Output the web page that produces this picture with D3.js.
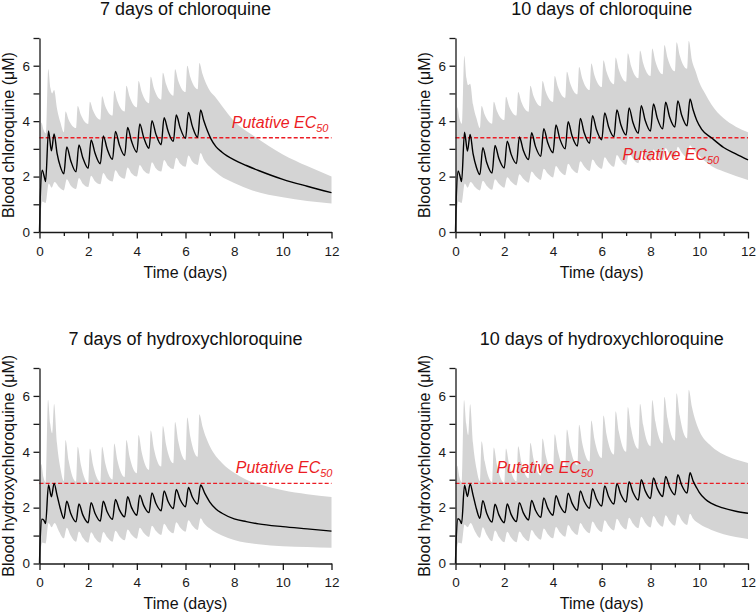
<!DOCTYPE html>
<html><head><meta charset="utf-8">
<script src="https://cdn.jsdelivr.net/npm/d3@7"></script>
<style>
html,body{margin:0;padding:0;background:#fff;}
svg{display:block;font-family:"Liberation Sans",Arial,Helvetica,sans-serif;}
</style></head><body>
<svg id="chart" width="756" height="614"></svg>
<script>
// ---------------- DATA ----------------
const titles = ["7 days of chloroquine", "10 days of chloroquine", "7 days of hydroxychloroquine", "10 days of hydroxychloroquine"];
const yAxisTitles = ["Blood chloroquine (μM)", "Blood chloroquine (μM)", "Blood hydroxychloroquine (μM)", "Blood hydroxychloroquine (μM)"];
const xAxisTitle = "Time (days)";
const ec50Values = [3.4, 3.4, 2.87, 2.87];
const ec50Label = "Putative EC";
const ec50Sub = "50";
const xTickValues = [0,1,2,3,4,5,6,7,8,9,10,11,12];
const yTickValues = [0,1,2,3,4,5,6,7];
const xDomain = [0, 12];
const yDomain = [0, 7];

// 7 days of chloroquine: [time (days), concentration (uM)]
const cq7Median = [[0,0],[0.03,1.2],[0.11,2.23],[0.18,2.05],[0.25,1.82],[0.37,3.65],[0.49,2.93],[0.6,3.54],[0.72,2.85],[0.86,2.35],
 [1.0,2.10],[1.12,3.07],[1.28,2.58],[1.5,2.17],[1.62,3.14],[1.78,2.68],[2.0,2.30],[2.12,3.32],[2.28,2.85],
 [2.5,2.46],[2.62,3.47],[2.78,3.0],[3.0,2.62],[3.12,3.63],[3.28,3.15],[3.5,2.76],[3.62,3.77],[3.78,3.28],
 [4.0,2.88],[4.12,3.90],[4.28,3.42],[4.5,3.02],[4.62,4.02],[4.78,3.54],[5.0,3.15],[5.12,4.12],[5.28,3.65],
 [5.5,3.27],[5.62,4.22],[5.78,3.76],[6.0,3.38],[6.12,4.31],[6.28,3.82],[6.5,3.42],[6.62,4.40],
 [6.75,4.02],[6.9,3.65],[7.05,3.35],[7.25,3.08],[7.5,2.88],[8,2.6],[8.5,2.4],[9,2.22],[10,1.9],[11,1.65],[12,1.42]];
const cq7Upper = [[0,0],[0.02,2.6],[0.08,3.95],[0.16,3.7],[0.27,3.55],[0.36,5.88],[0.45,5.2],[0.52,5.0],[0.6,5.12],[0.72,4.45],[0.86,3.95],
 [1.0,3.6],[1.07,4.35],[1.2,4.05],[1.5,3.75],[1.57,4.55],[1.7,4.23],[2.0,3.9],[2.07,4.7],[2.2,4.38],
 [2.5,4.05],[2.57,4.9],[2.7,4.55],[3.0,4.2],[3.07,5.1],[3.2,4.73],[3.5,4.35],[3.57,5.28],[3.7,4.89],
 [4.0,4.5],[4.07,5.45],[4.2,5.05],[4.5,4.65],[4.57,5.6],[4.7,5.19],[5.0,4.78],[5.07,5.75],[5.2,5.34],
 [5.5,4.92],[5.57,5.87],[5.7,5.46],[6.0,5.05],[6.07,6.0],[6.2,5.58],[6.5,5.15],[6.57,6.1],
 [6.7,5.7],[6.85,5.35],[7,5.1],[7.2,4.9],[7.5,4.55],[8,4.0],[8.75,3.5],[10,2.8],[11,2.38],[12,2.0]];
const cq7Lower = [[0,0],[0.05,0.7],[0.12,1.1],[0.25,1.05],[0.38,1.75],[0.5,1.6],[0.62,1.8],[0.8,1.62],
 [1.0,1.5],[1.12,1.9],[1.28,1.68],[1.5,1.55],[1.62,1.95],[1.78,1.74],[2.0,1.62],[2.12,2.03],[2.28,1.83],
 [2.5,1.72],[2.62,2.13],[2.78,1.93],[3.0,1.82],[3.12,2.23],[3.28,2.03],[3.5,1.92],[3.62,2.33],[3.78,2.12],
 [4.0,2.0],[4.12,2.42],[4.28,2.22],[4.5,2.1],[4.62,2.52],[4.78,2.3],[5.0,2.18],[5.12,2.6],[5.28,2.39],
 [5.5,2.27],[5.62,2.68],[5.78,2.47],[6.0,2.35],[6.12,2.76],[6.28,2.54],[6.5,2.42],[6.62,2.85],
 [6.75,2.62],[7,2.35],[7.4,2.05],[8,1.77],[8.75,1.5],[10,1.25],[11,1.12],[12,1.03]];

// 10 days of chloroquine
const cq10Median = [[0,0],[0.03,1.2],[0.11,2.2],[0.18,2.03],[0.25,1.82],[0.37,3.6],[0.49,2.92],[0.6,3.52],[0.72,2.83],[0.86,2.33],
 [1.0,2.07],[1.12,3.04],[1.28,2.51],[1.5,2.13],[1.62,3.12],[1.78,2.65],[2.0,2.31],[2.12,3.28],[2.28,2.81],
 [2.5,2.47],[2.62,3.43],[2.78,2.95],[3.0,2.61],[3.12,3.58],[3.28,3.09],[3.5,2.73],[3.62,3.73],[3.78,3.23],
 [4.0,2.86],[4.12,3.86],[4.28,3.36],[4.5,3.0],[4.62,3.98],[4.78,3.47],[5.0,3.1],[5.12,4.1],[5.28,3.58],
 [5.5,3.2],[5.62,4.2],[5.78,3.7],[6.0,3.33],[6.12,4.3],[6.28,3.8],[6.5,3.44],[6.62,4.4],[6.78,3.88],
 [7.0,3.5],[7.12,4.48],[7.28,3.95],[7.5,3.56],[7.62,4.56],[7.78,4.03],[8.0,3.64],[8.12,4.62],[8.28,4.1],
 [8.5,3.72],[8.62,4.68],[8.78,4.16],[9.0,3.79],[9.12,4.73],[9.28,4.21],[9.5,3.83],[9.62,4.8],
 [9.75,4.4],[9.9,4.02],[10.1,3.7],[10.5,3.4],[11,3.05],[11.5,2.82],[12,2.6]];
const cq10Upper = [[0,0],[0.02,2.8],[0.08,4.5],[0.16,4.1],[0.27,3.9],[0.36,6.35],[0.45,5.55],[0.52,5.3],[0.6,5.35],[0.72,4.6],[0.86,4.1],
 [1.0,3.75],[1.07,4.55],[1.2,4.23],[1.5,3.91],[1.57,4.7],[1.7,4.37],[2.0,4.04],[2.07,4.88],[2.2,4.54],
 [2.5,4.2],[2.57,5.05],[2.7,4.7],[3.0,4.34],[3.07,5.28],[3.2,4.91],[3.5,4.54],[3.57,5.45],[3.7,5.07],
 [4.0,4.69],[4.07,5.63],[4.2,5.24],[4.5,4.84],[4.57,5.78],[4.7,5.38],[5.0,4.97],[5.07,5.95],[5.2,5.54],
 [5.5,5.12],[5.57,6.08],[5.7,5.66],[6.0,5.23],[6.07,6.2],[6.2,5.77],[6.5,5.33],[6.57,6.3],[6.7,5.86],
 [7.0,5.42],[7.07,6.45],[7.2,6.0],[7.5,5.55],[7.57,6.55],[7.7,6.09],[8.0,5.63],[8.07,6.62],[8.2,6.16],
 [8.5,5.69],[8.57,6.75],[8.7,6.28],[9.0,5.8],[9.07,6.85],[9.2,6.37],[9.5,5.89],[9.57,6.9],
 [9.7,6.2],[9.85,5.8],[10,5.4],[10.25,4.98],[10.5,4.6],[11,4.1],[11.5,3.8],[12,3.6]];
const cq10Lower = [[0,0],[0.05,0.7],[0.12,1.1],[0.25,1.05],[0.38,1.75],[0.5,1.6],[0.62,1.8],[0.8,1.62],
 [1.0,1.5],[1.12,1.85],[1.28,1.67],[1.5,1.52],[1.62,1.9],[1.78,1.74],[2.0,1.6],[2.12,1.98],[2.28,1.82],
 [2.5,1.68],[2.62,2.08],[2.78,1.92],[3.0,1.78],[3.12,2.18],[3.28,2.02],[3.5,1.88],[3.62,2.28],[3.78,2.11],
 [4.0,1.97],[4.12,2.38],[4.28,2.2],[4.5,2.05],[4.62,2.46],[4.78,2.27],[5.0,2.12],[5.12,2.55],[5.28,2.36],
 [5.5,2.2],[5.62,2.62],[5.78,2.43],[6.0,2.28],[6.12,2.7],[6.28,2.51],[6.5,2.35],[6.62,2.78],[6.78,2.58],
 [7.0,2.42],[7.12,2.85],[7.28,2.65],[7.5,2.48],[7.62,2.92],[7.78,2.71],[8.0,2.54],[8.12,2.98],[8.28,2.77],
 [8.5,2.6],[8.62,3.03],[8.78,2.82],[9.0,2.65],[9.12,3.08],[9.28,2.87],[9.5,2.7],[9.62,3.13],
 [9.75,2.98],[10,2.75],[10.5,2.38],[11,2.18],[11.5,2.02],[12,1.88]];

// 7 days of hydroxychloroquine
const hcq7Median = [[0,0],[0.03,0.9],[0.1,1.59],[0.18,1.55],[0.25,1.43],[0.37,2.81],[0.49,2.39],[0.6,2.87],[0.72,2.45],[0.86,1.95],
 [1.0,1.61],[1.12,2.23],[1.28,1.8],[1.5,1.49],[1.62,2.13],[1.78,1.74],[2.0,1.46],[2.12,2.18],[2.28,1.8],
 [2.5,1.52],[2.62,2.23],[2.78,1.85],[3.0,1.58],[3.12,2.29],[3.28,1.93],[3.5,1.67],[3.62,2.39],[3.78,2.01],
 [4.0,1.73],[4.12,2.45],[4.28,2.08],[4.5,1.82],[4.62,2.53],[4.78,2.16],[5.0,1.89],[5.12,2.6],[5.28,2.23],
 [5.5,1.97],[5.62,2.65],[5.78,2.29],[6.0,2.03],[6.12,2.72],[6.28,2.38],[6.5,2.13],[6.62,2.81],
 [6.8,2.5],[7,2.2],[7.25,1.95],[7.5,1.8],[8,1.6],[8.5,1.5],[9,1.42],[10,1.32],[11,1.24],[12,1.16]];
const hcq7Upper = [[0,0],[0.02,2.4],[0.07,3.56],[0.16,3.1],[0.26,2.9],[0.35,5.86],[0.44,5.0],[0.52,4.66],[0.6,5.71],[0.72,4.3],[0.86,3.4],
 [1.0,2.95],[1.07,4.42],[1.2,3.68],[1.5,2.93],[1.57,4.18],[1.7,3.54],[2.0,2.89],[2.07,4.12],[2.2,3.53],
 [2.5,2.93],[2.57,4.18],[2.7,3.6],[3.0,3.01],[3.07,4.3],[3.2,3.7],[3.5,3.1],[3.57,4.42],[3.7,3.83],
 [4.0,3.23],[4.07,4.6],[4.2,3.98],[4.5,3.35],[4.57,4.76],[4.7,4.12],[5.0,3.47],[5.07,4.92],[5.2,4.26],
 [5.5,3.59],[5.57,5.07],[5.7,4.39],[6.0,3.7],[6.07,5.23],[6.2,4.53],[6.5,3.82],[6.57,5.34],
 [6.7,4.9],[6.85,4.5],[7,4.2],[7.5,3.6],[8,3.25],[8.5,3.0],[9,2.85],[10,2.62],[11,2.48],[12,2.38]];
const hcq7Lower = [[0,0],[0.05,0.5],[0.12,0.75],[0.25,0.72],[0.37,1.45],[0.5,1.3],[0.62,1.45],[0.8,1.15],
 [1.0,0.9],[1.12,1.28],[1.28,1.0],[1.5,0.78],[1.62,1.15],[1.78,0.92],[2.0,0.74],[2.12,1.12],[2.28,0.91],
 [2.5,0.74],[2.62,1.13],[2.78,0.94],[3.0,0.78],[3.12,1.17],[3.28,0.98],[3.5,0.83],[3.62,1.22],[3.78,1.04],
 [4.0,0.89],[4.12,1.28],[4.28,1.1],[4.5,0.95],[4.62,1.35],[4.78,1.17],[5.0,1.02],[5.12,1.42],[5.28,1.23],
 [5.5,1.08],[5.62,1.48],[5.78,1.29],[6.0,1.14],[6.12,1.55],[6.28,1.36],[6.5,1.2],[6.62,1.62],
 [6.75,1.45],[7,1.25],[7.5,1.0],[8,0.84],[9,0.69],[10,0.62],[11,0.59],[12,0.56]];

// 10 days of hydroxychloroquine
const hcq10Median = [[0,0],[0.03,0.9],[0.1,1.6],[0.18,1.55],[0.25,1.43],[0.37,2.8],[0.49,2.4],[0.6,2.85],[0.72,2.45],[0.86,1.95],
 [1.0,1.62],[1.12,2.25],[1.28,1.8],[1.5,1.48],[1.62,2.12],[1.78,1.74],[2.0,1.46],[2.12,2.13],[2.28,1.76],
 [2.5,1.5],[2.62,2.18],[2.78,1.82],[3.0,1.56],[3.12,2.26],[3.28,1.91],[3.5,1.65],[3.62,2.35],[3.78,1.99],
 [4.0,1.73],[4.12,2.43],[4.28,2.08],[4.5,1.82],[4.62,2.52],[4.78,2.16],[5.0,1.9],[5.12,2.6],[5.28,2.24],
 [5.5,1.98],[5.62,2.68],[5.78,2.32],[6.0,2.06],[6.12,2.78],[6.28,2.4],[6.5,2.13],[6.62,2.86],[6.78,2.48],
 [7.0,2.2],[7.12,2.93],[7.28,2.55],[7.5,2.27],[7.62,3.0],[7.78,2.61],[8.0,2.33],[8.12,3.06],[8.28,2.68],
 [8.5,2.4],[8.62,3.12],[8.78,2.74],[9.0,2.46],[9.12,3.18],[9.28,2.8],[9.5,2.52],[9.62,3.25],
 [9.75,2.95],[9.9,2.7],[10,2.55],[10.25,2.3],[10.5,2.15],[11,1.98],[11.5,1.87],[12,1.8]];
const hcq10Upper = [[0,0],[0.02,2.4],[0.07,3.5],[0.16,3.1],[0.26,2.9],[0.35,5.85],[0.44,5.0],[0.52,4.6],[0.6,5.7],[0.72,4.3],[0.86,3.4],
 [1.0,2.95],[1.07,4.38],[1.2,3.65],[1.5,2.92],[1.57,4.15],[1.7,3.53],[2.0,2.9],[2.07,4.12],[2.2,3.54],
 [2.5,2.95],[2.57,4.2],[2.7,3.63],[3.0,3.05],[3.07,4.32],[3.2,3.74],[3.5,3.15],[3.57,4.48],[3.7,3.88],
 [4.0,3.28],[4.07,4.63],[4.2,4.02],[4.5,3.4],[4.57,4.8],[4.7,4.16],[5.0,3.52],[5.07,4.97],[5.2,4.31],
 [5.5,3.65],[5.57,5.12],[5.7,4.45],[6.0,3.78],[6.07,5.3],[6.2,4.6],[6.5,3.9],[6.57,5.45],[6.7,4.73],
 [7.0,4.0],[7.07,5.6],[7.2,4.85],[7.5,4.1],[7.57,5.72],[7.7,4.96],[8.0,4.2],[8.07,5.85],[8.2,5.08],
 [8.5,4.3],[8.57,5.97],[8.7,5.19],[9.0,4.4],[9.07,6.1],[9.2,5.29],[9.5,4.48],[9.57,6.22],
 [9.7,5.6],[9.85,5.1],[10,4.75],[10.5,4.2],[11,3.9],[11.5,3.72],[12,3.6]];
const hcq10Lower = [[0,0],[0.05,0.5],[0.12,0.75],[0.25,0.72],[0.37,1.4],[0.5,1.3],[0.62,1.45],[0.8,1.15],
 [1.0,0.92],[1.12,1.3],[1.28,1.03],[1.5,0.8],[1.62,1.18],[1.78,0.95],[2.0,0.76],[2.12,1.14],[2.28,0.93],
 [2.5,0.76],[2.62,1.15],[2.78,0.96],[3.0,0.8],[3.12,1.2],[3.28,1.01],[3.5,0.85],[3.62,1.25],[3.78,1.06],
 [4.0,0.9],[4.12,1.31],[4.28,1.12],[4.5,0.96],[4.62,1.38],[4.78,1.18],[5.0,1.02],[5.12,1.45],[5.28,1.25],
 [5.5,1.08],[5.62,1.5],[5.78,1.3],[6.0,1.13],[6.12,1.55],[6.28,1.35],[6.5,1.18],[6.62,1.6],[6.78,1.39],
 [7.0,1.22],[7.12,1.64],[7.28,1.43],[7.5,1.26],[7.62,1.67],[7.78,1.46],[8.0,1.29],[8.12,1.7],[8.28,1.49],
 [8.5,1.32],[8.62,1.73],[8.78,1.52],[9.0,1.35],[9.12,1.76],[9.28,1.55],[9.5,1.38],[9.62,1.78],
 [9.75,1.6],[10,1.42],[10.5,1.2],[11,1.05],[11.5,0.95],[12,0.88]];

const medians = [cq7Median, cq10Median, hcq7Median, hcq10Median];
const uppers = [cq7Upper, cq10Upper, hcq7Upper, hcq10Upper];
const lowers = [cq7Lower, cq10Lower, hcq7Lower, hcq10Lower];

// ---------------- LAYOUT / STYLE ----------------
const boxes = [
  {left: 39.5, right: 331.5, top: 38, bottom: 232},
  {left: 455.5, right: 748, top: 38, bottom: 232},
  {left: 39.5, right: 331.5, top: 368, bottom: 563.5},
  {left: 455.5, right: 748, top: 368, bottom: 563.5}
];
const ecLabelPos = [
  {t: 12, anchor: "end", dx: -3, dy: -10},
  {t: 6.85, anchor: "start", dx: 0, dy: 22},
  {t: 12, anchor: "end", dx: 1, dy: -10.5},
  {t: 1.68, anchor: "start", dx: 0, dy: -10.5}
];
const RED = "#ec1c24";
const BAND = "#d4d4d4";
const AXIS = "#1a1a1a";

const svg = d3.select("#chart");
svg.append("rect").attr("width", 756).attr("height", 614).attr("fill", "#fff");

boxes.forEach((b, i) => {
  const x = d3.scaleLinear().domain(xDomain).range([b.left, b.right]);
  const y = d3.scaleLinear().domain(yDomain).range([b.bottom, b.top]);
  const g = svg.append("g");
  const line = d3.line().x(d => x(d[0])).y(d => y(d[1])).curve(d3.curveMonotoneX);

  // band (upper edge forward, lower edge backward)
  const upPath = line(uppers[i]);
  const loPath = line(lowers[i].slice().reverse());
  g.append("path").attr("d", upPath + loPath.replace(/^M/, "L") + "Z")
    .attr("fill", BAND).attr("stroke", "none");

  // EC50 dashed line
  g.append("line")
    .attr("x1", x(xDomain[0])).attr("x2", x(xDomain[1]))
    .attr("y1", y(ec50Values[i])).attr("y2", y(ec50Values[i]))
    .attr("stroke", RED).attr("stroke-width", 1.4).attr("stroke-dasharray", "4,2.2");

  // median line
  g.append("path").attr("d", line(medians[i]))
    .attr("fill", "none").attr("stroke", "#000").attr("stroke-width", 1.4);

  // EC50 label
  const lp = ecLabelPos[i];
  const txt = g.append("text")
    .attr("x", x(lp.t) + lp.dx).attr("y", y(ec50Values[i]) + lp.dy)
    .attr("text-anchor", lp.anchor).attr("fill", RED)
    .attr("font-style", "italic").attr("font-size", 16);
  txt.append("tspan").text(ec50Label);
  txt.append("tspan").attr("font-size", 11).attr("dy", 4).text(ec50Sub);

  // axes
  const xAxis = d3.axisBottom(x).tickValues(xTickValues)
    .tickFormat(d => d % 2 === 0 ? d : "").tickSize(6).tickSizeOuter(0).tickPadding(8);
  const gx = g.append("g").attr("transform", `translate(0,${b.bottom})`).call(xAxis);
  gx.selectAll(".tick line").attr("y2", d => d % 2 === 0 ? 6.5 : 4);
  const yAxis = d3.axisLeft(y).tickValues(yTickValues)
    .tickFormat(d => d % 2 === 0 ? d : "").tickSize(6).tickSizeOuter(0).tickPadding(3.5);
  const gy = g.append("g").attr("transform", `translate(${b.left},0)`).call(yAxis);
  [gx, gy].forEach(a => {
    a.attr("font-family", null).attr("font-size", 13.5);
    a.select(".domain").attr("stroke", AXIS).attr("stroke-width", 1.3);
    a.selectAll(".tick line").attr("stroke", AXIS).attr("stroke-width", 1.3);
    a.selectAll(".tick text").attr("fill", "#1a1a1a");
  });

  // titles
  const cx = (b.left + b.right) / 2;
  g.append("text").attr("x", cx).attr("y", b.top - 23.5)
    .attr("text-anchor", "middle").attr("font-size", 18).attr("fill", "#111").text(titles[i]);
  g.append("text").attr("x", cx).attr("y", b.bottom + 45.5)
    .attr("text-anchor", "middle").attr("font-size", 16).attr("fill", "#111").text(xAxisTitle);
  const cy = (b.top + b.bottom) / 2;
  g.append("text").attr("transform", `translate(${b.left - 26},${cy}) rotate(-90)`)
    .attr("text-anchor", "middle").attr("font-size", 16).attr("fill", "#111").text(yAxisTitles[i]);
});
</script>
</body></html>
